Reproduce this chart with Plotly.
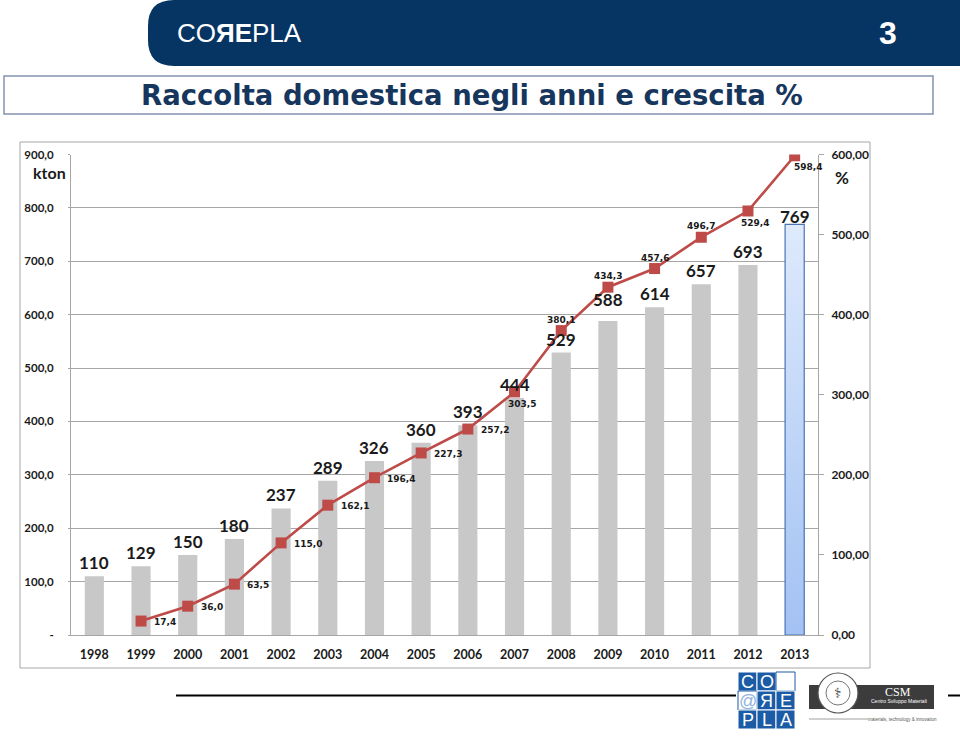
import plotly.graph_objects as go

# ---- data ----
years = list(range(1998, 2014))
year_labels = [str(y) for y in years]
raccolta_kton = [110, 129, 150, 180, 237, 289, 326, 360, 393, 444, 529, 588, 614, 657, 693, 769]
growth_years = list(range(1999, 2014))
growth_pct = [17.4, 36.0, 63.5, 115.0, 162.1, 196.4, 227.3, 257.2, 303.5, 380.1, 434.3, 457.6, 496.7, 529.4, 598.4]
left_ticks = [0, 100, 200, 300, 400, 500, 600, 700, 800, 900]
left_ticktext = ["-", "100,0", "200,0", "300,0", "400,0", "500,0", "600,0", "700,0", "800,0", "900,0"]
right_ticks = [0, 100, 200, 300, 400, 500, 600]
right_ticktext = ["0,00", "100,00", "200,00", "300,00", "400,00", "500,00", "600,00"]

# ---- styling helpers ----
W, H = 960, 740
def px(x):
    return x / W
def py(y):
    return 1 - y / H
def bold(lst):
    return [f"<b>{t}</b>" for t in lst]

FONT = "Lato, Open Sans, DejaVu Sans, sans-serif"
TXT = "#1a1a1a"
RED = "#BE4B48"
GRID = "#A6A6A6"
BAR_W = 0.41

bar_colors = ["#C8C8C8"] * (len(years) - 1) + ["#C2D7F7"]

fig = go.Figure()
fig.add_trace(go.Bar(
    x=years, y=raccolta_kton, width=BAR_W,
    marker=dict(color=bar_colors, line=dict(width=0)),
    hoverinfo="skip", showlegend=False,
))
# gradient fill + outline for the highlighted (last) bar, derived from its data value
hx, hv = years[-1], raccolta_kton[-1]
fig.add_trace(go.Scatter(
    x=[hx - BAR_W / 2, hx + BAR_W / 2, hx + BAR_W / 2, hx - BAR_W / 2, hx - BAR_W / 2],
    y=[0, 0, hv, hv, 0], mode="lines", fill="toself",
    fillgradient=dict(type="vertical", colorscale=[[0, "#A3C1F3"], [1, "#DEEAFC"]]),
    line=dict(color="#4A74B4", width=1.2),
    hoverinfo="skip", showlegend=False,
))
fig.add_trace(go.Scatter(
    x=growth_years, y=growth_pct, yaxis="y2", mode="lines+markers",
    line=dict(color=RED, width=2.6),
    marker=dict(symbol="square", size=11, color=RED),
    hoverinfo="skip", showlegend=False,
))

annotations = []
def paper_text(x, y, text, size, color, family=FONT, xanchor="center"):
    annotations.append(dict(x=px(x), y=py(y), xref="paper", yref="paper", text=text, showarrow=False,
                            xanchor=xanchor, yanchor="middle",
                            font=dict(family=family, size=size, color=color)))

# bar value labels
bar_extra = {2009: 8, 2013: -6}
for yr, v in zip(years, raccolta_kton):
    annotations.append(dict(
        x=yr, y=v, xref="x", yref="y", text=f"<b>{v}</b>", showarrow=False,
        xanchor="center", yanchor="middle", yshift=13.5 + bar_extra.get(yr, 0),
        font=dict(family=FONT, size=17, color=TXT),
    ))
# line value labels: placement per point
place = {2007: "br", 2008: "a", 2009: "a", 2010: "a", 2011: "a", 2012: "br", 2013: "br2"}
for yr, v in zip(growth_years, growth_pct):
    p = place.get(yr, "r")
    txt = f"<b>{v:.1f}</b>".replace(".", ",")
    if p == "r":
        kw = dict(xanchor="left", xshift=11, yshift=-1)
    elif p == "a":
        kw = dict(xanchor="center", xshift=0, yshift=11)
    elif p == "br":
        kw = dict(xanchor="center", xshift=7, yshift=-12)
    else:
        kw = dict(xanchor="center", xshift=13, yshift=-11)
    annotations.append(dict(
        x=yr, y=v, xref="x", yref="y2", text=txt, showarrow=False, yanchor="middle",
        font=dict(family="DejaVu Sans, sans-serif", size=9, color=TXT), **kw,
    ))

# axis unit labels
paper_text(49, 172, "<b>kton</b>", 16, TXT)
paper_text(842, 177, "<b>%</b>", 17, TXT)

# header / title texts
paper_text(175, 33, "CO<b>ЯE</b>PLA", 26, "white",
           family="Liberation Sans Narrow, Liberation Sans, sans-serif", xanchor="left")
paper_text(888, 33, "<b>3</b>", 32, "white", family="Liberation Sans, sans-serif")
paper_text(472, 95, "<b>Raccolta domestica negli anni e crescita %</b>", 27.5, "#17365D",
           family="DejaVu Sans, sans-serif")

shapes = []
# header banner
shapes.append(dict(type="path", xref="paper", yref="paper",
                   path=f"M {px(960)},{py(0)} L {px(174)},{py(0)} Q {px(148)},{py(0)} {px(148)},{py(26)} "
                        f"L {px(148)},{py(40)} Q {px(148)},{py(66)} {px(174)},{py(66)} L {px(960)},{py(66)} Z",
                   fillcolor="#063463", line=dict(width=0), layer="below"))
# title box
shapes.append(dict(type="rect", xref="paper", yref="paper", x0=px(4), x1=px(933), y0=py(114), y1=py(76),
                   line=dict(color="#8393AE", width=1.5), fillcolor="white", layer="below"))
# chart border
shapes.append(dict(type="rect", xref="paper", yref="paper", x0=px(20), x1=px(870), y0=py(668), y1=py(142),
                   line=dict(color="#A6A6A6", width=1), layer="below"))
# footer lines
shapes.append(dict(type="line", xref="paper", yref="paper", x0=px(176), x1=px(736), y0=py(695.5), y1=py(695.5),
                   line=dict(color="black", width=2)))
shapes.append(dict(type="line", xref="paper", yref="paper", x0=px(948), x1=px(960), y0=py(695.5), y1=py(695.5),
                   line=dict(color="black", width=2)))
# COREPLA square logo
logo_letters = [["C", "O", ""], ["@", "Я", "E"], ["P", "L", "A"]]
cell = 19
for r in range(3):
    for c in range(3):
        x0 = 738 + c * cell
        y0 = 672 + r * cell
        ch = logo_letters[r][c]
        blue = ch not in ("", "@")
        shapes.append(dict(type="rect", xref="paper", yref="paper", x0=px(x0), x1=px(x0 + cell),
                           y0=py(y0 + cell), y1=py(y0),
                           fillcolor="#1C5BA6" if blue else "white",
                           line=dict(color="white" if blue else "#1C5BA6", width=1)))
        if ch:
            paper_text(x0 + cell / 2, y0 + cell / 2 + 0.5, ch, 18, "white" if blue else "#8FB4DE",
                       family="Liberation Sans Narrow, Liberation Sans, sans-serif")
# CSM logo
shapes.append(dict(type="rect", xref="paper", yref="paper", x0=px(809), x1=px(934), y0=py(709), y1=py(685),
                   fillcolor="#3C3C3C", line=dict(width=0)))
shapes.append(dict(type="circle", xref="paper", yref="paper", x0=px(818), x1=px(858), y0=py(713), y1=py(673),
                   fillcolor="white", line=dict(color="#555555", width=1.2)))
shapes.append(dict(type="circle", xref="paper", yref="paper", x0=px(826), x1=px(850), y0=py(705), y1=py(681),
                   fillcolor="white", line=dict(color="#777777", width=1)))
shapes.append(dict(type="line", xref="paper", yref="paper", x0=px(809), x1=px(868), y0=py(719), y1=py(719),
                   line=dict(color="#888888", width=0.8)))
paper_text(838, 693, "⚕", 14, "#444444", family="DejaVu Sans")
paper_text(898, 691.5, "CSM", 12, "white", family="Liberation Serif, serif")
paper_text(899, 701, "Centro Sviluppo Materiali", 5, "white", family="Liberation Sans Narrow, sans-serif")
paper_text(902, 719, "materials, technology & innovation", 4.5, "#555555", family="Liberation Sans Narrow, sans-serif")

fig.update_layout(
    width=W, height=H, margin=dict(l=0, r=0, t=0, b=0, autoexpand=False),
    paper_bgcolor="white", plot_bgcolor="rgba(0,0,0,0)",
    xaxis=dict(domain=[px(71), px(818)], range=[1997.5, 2013.5], tickvals=years, ticktext=bold(year_labels),
               showgrid=False, showline=True, zeroline=False, automargin=False,
               linecolor=GRID, linewidth=1, ticks="", ticklabelstandoff=8,
               tickfont=dict(family=FONT, size=12.5, color=TXT)),
    yaxis=dict(domain=[py(635), py(154.5)], range=[0, 900], tickvals=left_ticks, ticktext=bold(left_ticktext),
               showgrid=True, gridcolor=GRID, gridwidth=1, showline=True, linecolor=GRID, linewidth=1,
               ticks="outside", ticklen=2, tickcolor=GRID, ticklabelstandoff=12, zeroline=False,
               automargin=False,
               tickfont=dict(family=FONT, size=11.5, color=TXT)),
    yaxis2=dict(overlaying="y", side="right", range=[0, 600], tickvals=right_ticks, ticktext=bold(right_ticktext),
                showgrid=False, showline=True, linecolor=GRID, linewidth=1, zeroline=False, automargin=False,
                ticks="outside", ticklen=5, tickcolor=GRID, ticklabelstandoff=5,
                tickfont=dict(family=FONT, size=12, color=TXT)),
    annotations=annotations, shapes=shapes,
)

fig.write_html("out.html", config={"displayModeBar": False},
               post_script="document.body.style.margin='0';document.body.style.overflow='hidden';")
